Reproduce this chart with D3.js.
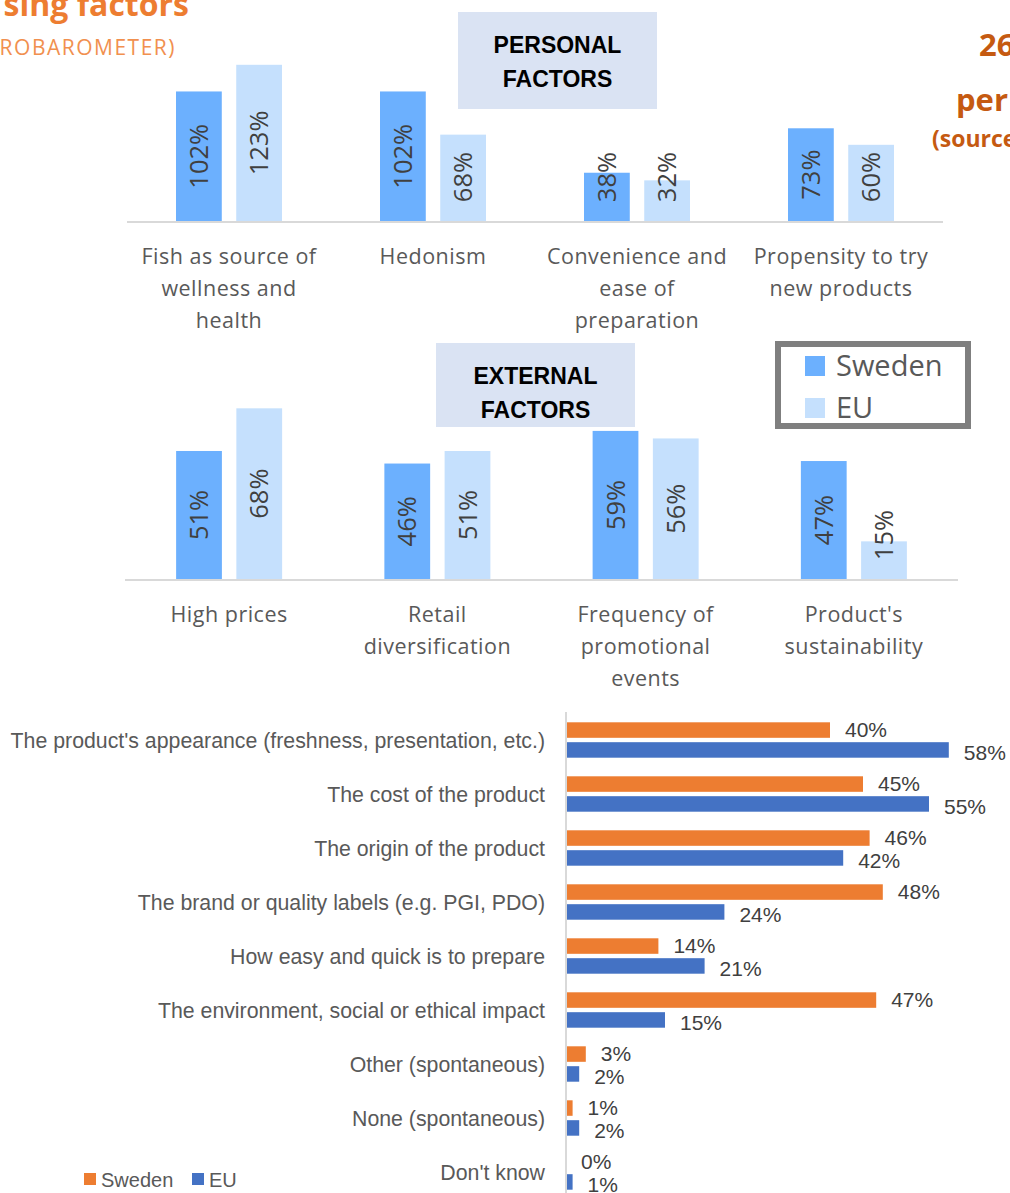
<!DOCTYPE html>
<html>
<head>
<meta charset="utf-8">
<script src="https://cdn.jsdelivr.net/npm/d3@7"></script>
<style>
  body { margin: 0; background: #fff; overflow: hidden; }
  svg { display: block; }
</style>
</head>
<body>
<div id="chart"></div>
<script>
// data
const seriesNames = ["Sweden", "EU"];

const personalCats = ["Fish as source of wellness and health", "Hedonism", "Convenience and ease of preparation", "Propensity to try new products"];
const personalLines = [["Fish as source of", "wellness and", "health"], ["Hedonism"], ["Convenience and", "ease of", "preparation"], ["Propensity to try", "new products"]];
const personalSweden = [102, 102, 38, 73];
const personalEU = [123, 68, 32, 60];

const externalCats = ["High prices", "Retail diversification", "Frequency of promotional events", "Product's sustainability"];
const externalLines = [["High prices"], ["Retail", "diversification"], ["Frequency of", "promotional", "events"], ["Product's", "sustainability"]];
const externalSweden = [51, 46, 59, 47];
const externalEU = [68, 51, 56, 15];

const criteriaCats = [
  "The product's appearance (freshness, presentation, etc.)",
  "The cost of the product",
  "The origin of the product",
  "The brand or quality labels (e.g. PGI, PDO)",
  "How easy and quick is to prepare",
  "The environment, social or ethical impact",
  "Other (spontaneous)",
  "None (spontaneous)",
  "Don't know"
];
const criteriaSweden = [40, 45, 46, 48, 14, 47, 3, 1, 0];
const criteriaEU = [58, 55, 42, 24, 21, 15, 2, 2, 1];

const W = 1010, H = 1193;
const svg = d3.select('#chart').append('svg')
  .attr('width', W).attr('height', H);

// title fragments (page is cropped)
svg.append('text').attr('x', 189).attr('y', 16).attr('text-anchor', 'end')
  .style('font-family', '"Open Sans"').style('font-weight', 'bold')
  .style('font-size', '32px').style('fill', '#ed7d31')
  .text('sing factors');
svg.append('text').attr('x', 176).attr('y', 55).attr('text-anchor', 'end')
  .style('font-family', '"Open Sans"').style('font-size', '21px')
  .style('fill', '#f1904f').style('letter-spacing', '1.5px')
  .text('ROBAROMETER)');

let rightTitle = [
  {t: '26', x: 979, y: 56, s: 31},
  {t: 'per', x: 956, y: 111, s: 31},
  {t: '(source', x: 932, y: 147, s: 23}
];
svg.selectAll('.rtitle').data(rightTitle).enter().append('text')
  .attr('class', 'rtitle')
  .attr('x', d => d.x).attr('y', d => d.y)
  .style('font-family', '"Open Sans"').style('font-weight', 'bold')
  .style('font-size', d => d.s + 'px').style('fill', '#c55a11')
  .text(d => d.t);

const barColors = d3.scaleOrdinal().domain(seriesNames).range(['#6cb0fe', '#c5e0fd']);

function drawColumns(cats, lines, sw, eu, x0, x1, base, pxPer) {
  let y = d3.scaleLinear().domain([0, 100]).range([base, base - 100 * pxPer]);
  let xb = d3.scaleBand().domain(cats).range([x0, x1]);
  let half = 53;
  let xs = d3.scaleBand().domain(seriesNames).range([-half, half]).paddingInner(0.24);
  let g = svg.append('g');

  g.append('line')
    .attr('x1', x0).attr('x2', x1).attr('y1', base + 1).attr('y2', base + 1)
    .style('stroke', '#d9d9d9').style('stroke-width', 2);

  let rows = [];
  cats.forEach((c, i) => {
    rows.push({cat: c, s: 'Sweden', v: sw[i]});
    rows.push({cat: c, s: 'EU', v: eu[i]});
  });
  let cx = d => xb(d.cat) + xb.bandwidth() / 2 + xs(d.s);

  g.selectAll('rect.bar').data(rows).enter().append('rect')
    .attr('class', 'bar')
    .attr('x', d => cx(d))
    .attr('y', d => y(d.v))
    .attr('width', xs.bandwidth())
    .attr('height', d => base - y(d.v))
    .style('fill', d => barColors(d.s));

  g.selectAll('text.val').data(rows).enter().append('text')
    .attr('class', 'val')
    .attr('transform', d => {
      let mx = cx(d) + xs.bandwidth() / 2;
      let my = Math.min((y(d.v) + base) / 2, base - 44);
      return `translate(${mx},${my}) rotate(-90)`;
    })
    .attr('text-anchor', 'middle').attr('dy', '0.36em')
    .style('font-family', '"Open Sans"').style('font-size', '25.5px')
    .style('fill', '#404040')
    .text(d => d.v + '%');

  let lab = g.selectAll('text.cat').data(cats).enter().append('text')
    .attr('class', 'cat')
    .attr('text-anchor', 'middle')
    .style('font-family', '"Open Sans"').style('font-size', '21.5px')
    .style('letter-spacing', '0.5px')
    .style('fill', '#595959');
  lab.each(function(c, i) {
    d3.select(this).selectAll('tspan').data(lines[i]).enter().append('tspan')
      .attr('x', xb(c) + xb.bandwidth() / 2)
      .attr('y', (l, j) => base + 43 + j * 32)
      .text(l => l);
  });
}

drawColumns(personalCats, personalLines, personalSweden, personalEU, 127, 943, 221, 1.27);
drawColumns(externalCats, externalLines, externalSweden, externalEU, 125, 958, 579, 2.51);

// section boxes
let boxes = [
  {x: 458, y: 12, w: 199, h: 97, lines: ['PERSONAL', 'FACTORS'], ty: 53},
  {x: 436, y: 343, w: 199, h: 84, lines: ['EXTERNAL', 'FACTORS'], ty: 384}
];
boxes.forEach(b => {
  svg.append('rect').attr('x', b.x).attr('y', b.y).attr('width', b.w).attr('height', b.h)
    .style('fill', '#dae3f3');
  svg.append('text').attr('text-anchor', 'middle')
    .style('font-family', '"Liberation Sans"').style('font-weight', 'bold')
    .style('font-size', '23px').style('fill', '#000')
    .selectAll('tspan').data(b.lines).enter().append('tspan')
    .attr('x', b.x + b.w / 2).attr('y', (d, i) => b.ty + i * 34)
    .text(d => d);
});

// legend box for the column charts
let lg = svg.append('g');
lg.append('rect').attr('x', 778).attr('y', 344).attr('width', 190).attr('height', 82)
  .style('fill', '#fff').style('stroke', '#7f7f7f').style('stroke-width', 6);
let lgItems = lg.selectAll('.li').data(seriesNames).enter().append('g').attr('class', 'li')
  .attr('transform', (d, i) => `translate(805, ${356 + i * 42})`);
lgItems.append('rect').attr('width', 20).attr('height', 20).style('fill', d => barColors(d));
lgItems.append('text').attr('x', 31).attr('y', 20)
  .style('font-family', '"Open Sans"').style('font-size', '29px').style('fill', '#595959')
  .text(d => d);

// horizontal bar chart
const hColors = d3.scaleOrdinal().domain(seriesNames).range(['#ed7d31', '#4472c4']);
const hx = d3.scaleLinear().domain([0, 100]).range([566, 1226]);
const hy = d3.scaleBand().domain(criteriaCats).range([713, 713 + 54 * criteriaCats.length]);
const hs = d3.scaleBand().domain(seriesNames).range([-17.7, 17.7]).paddingInner(0.22);

let hg = svg.append('g');
let hrows = [];
criteriaCats.forEach((c, i) => {
  hrows.push({cat: c, s: 'Sweden', v: criteriaSweden[i]});
  hrows.push({cat: c, s: 'EU', v: criteriaEU[i]});
});
let hyy = d => hy(d.cat) + hy.bandwidth() / 2 + hs(d.s);

hg.selectAll('rect').data(hrows).enter().append('rect')
  .attr('x', hx(0))
  .attr('y', d => hyy(d))
  .attr('width', d => hx(d.v) - hx(0))
  .attr('height', hs.bandwidth())
  .style('fill', d => hColors(d.s));

hg.append('line')
  .attr('x1', 566).attr('x2', 566).attr('y1', 712).attr('y2', H)
  .style('stroke', '#d9d9d9').style('stroke-width', 2);

hg.selectAll('text.hval').data(hrows).enter().append('text')
  .attr('class', 'hval')
  .attr('x', d => hx(d.v) + 15)
  .attr('y', d => hyy(d) + hs.bandwidth() / 2 + (d.s === 'EU' ? 2 : -1))
  .attr('dy', '0.36em')
  .style('font-family', '"Liberation Sans"').style('font-size', '21px')
  .style('fill', '#404040')
  .text(d => d.v + '%');

hg.selectAll('text.hcat').data(criteriaCats).enter().append('text')
  .attr('class', 'hcat')
  .attr('x', 545)
  .attr('y', d => hy(d) + hy.bandwidth() / 2)
  .attr('dy', '0.36em')
  .attr('text-anchor', 'end')
  .style('font-family', '"Liberation Sans"').style('font-size', '21.3px')
  .style('fill', '#595959')
  .text(d => d);

// bottom legend
let bl = svg.selectAll('.bl').data(seriesNames).enter().append('g').attr('class', 'bl')
  .attr('transform', (d, i) => `translate(${i === 0 ? 84 : 192}, 1173)`);
bl.append('rect').attr('width', 12).attr('height', 12).style('fill', d => hColors(d));
bl.append('text').attr('x', 17).attr('y', 13.5)
  .style('font-family', '"Liberation Sans"').style('font-size', '20px').style('fill', '#595959')
  .text(d => d);
</script>
</body>
</html>
